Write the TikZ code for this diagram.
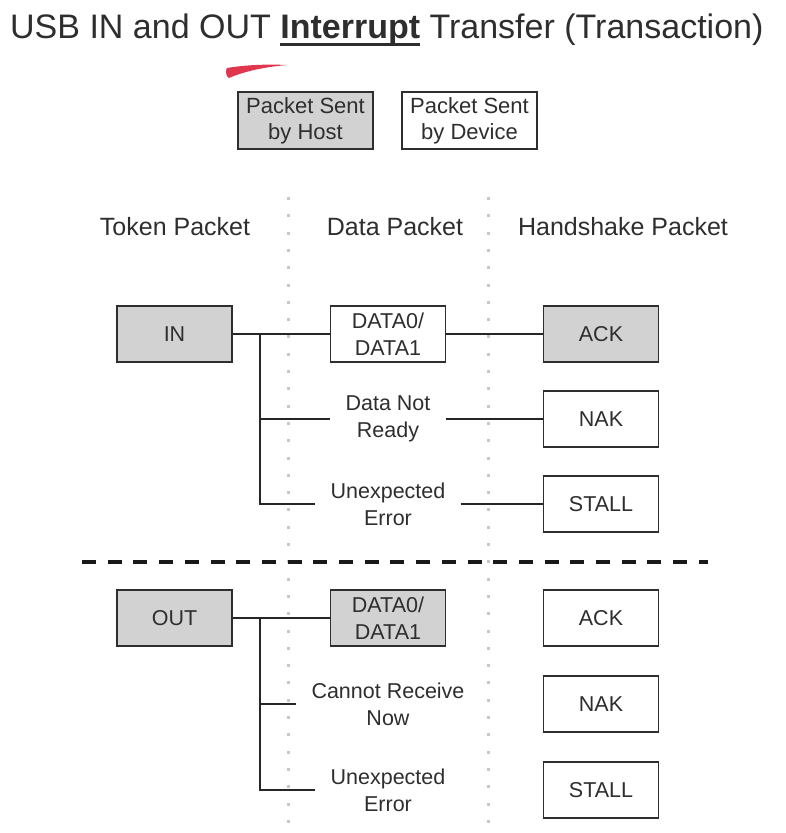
\documentclass[tikz,border=0pt]{standalone}
\usepackage{fontspec}
\setmainfont{Liberation Sans}
\usetikzlibrary{positioning}
\definecolor{pktGray}{HTML}{D2D2D2}
\definecolor{pktText}{HTML}{2E2E2E}
\definecolor{pktDot}{HTML}{C8C8C8}
\definecolor{penRed}{HTML}{E0364E}
\newlength{\ulWidth}
\newcommand{\ulBold}[1]{\settowidth{\ulWidth}{\textbf{#1}}\textbf{#1}\hspace{-\ulWidth}\rule[-8pt]{\ulWidth}{3pt}}
\tikzstyle{pHost} = [rectangle, minimum width=115pt, minimum height=56pt, inner ysep=1pt, align=center, draw=pktText, line width=1.6pt, fill=pktGray, text=pktText, font=\fontsize{21.5}{27}\selectfont]
\tikzstyle{pDevice} = [pHost, fill=white]
\tikzstyle{pLegend} = [pHost, minimum width=135pt, minimum height=57pt, font=\fontsize{22}{26}\selectfont]
\tikzstyle{pLabel} = [rectangle, inner xsep=15pt, inner ysep=1pt, align=center, text=pktText, font=\fontsize{21.5}{27}\selectfont]
\tikzstyle{pHeading} = [anchor=base, inner sep=0pt, text=pktText, font=\fontsize{25}{30}\selectfont]
\tikzstyle{pLine} = [line width=2.8pt, black!85]
\tikzstyle{pColumn} = [pktDot, line width=3pt, dash pattern=on 3pt off 14.3pt]
\tikzstyle{pDivider} = [black!90, line width=4pt, dash pattern=on 14pt off 11.7pt]
\begin{document}
\begin{tikzpicture}[x=1pt, y=1pt, node distance=85pt]
    \useasboundingbox (0,0) rectangle (785,-833);
    \node (title) [anchor=base west, inner sep=0pt, text=pktText, font=\fontsize{34}{40}\selectfont] at (10,-38) {USB IN and OUT \ulBold{Interrupt} Transfer (Transaction)};
    \fill [penRed] (227,-68) .. controls (245,-65) and (265,-64) .. (287,-65) .. controls (265,-67) and (245,-71) .. (229,-78) .. controls (226,-77) and (225,-70) .. (227,-68) -- cycle;
    \node (hostKey) [pLegend] at (305.5,-120.5) {Packet Sent\\by Host};
    \node (deviceKey) [pLegend, fill=white, right of=hostKey, xshift=79pt] {Packet Sent\\by Device};

    \draw [pColumn] (288,-197) -- (288,-833);
    \draw [pColumn] (488,-197) -- (488,-833);
    \node (tokHead) [pHeading] at (175,-235) {Token Packet};
    \node (dataHead) [pHeading] at (395,-235) {Data Packet};
    \node (shakeHead) [pHeading] at (623,-235) {Handshake Packet};

    % IN transfer
    \node (inTok) [pHost] at (174.5,-334) {IN};
    \node (dataIn) [pDevice, right of=inTok, xshift=128.5pt] {DATA0/\\DATA1};
    \node (ackIn) [pHost, right of=dataIn, xshift=128pt] {ACK};
    \node (notReady) [pLabel, below of=dataIn] {Data Not\\Ready};
    \node (errIn) [pLabel, below of=notReady] {Unexpected\\Error};
    \node (nakIn) [pDevice, below of=ackIn] {NAK};
    \node (stallIn) [pDevice, below of=nakIn] {STALL};
    \coordinate (inFork) at (260,-334);

    \draw [pLine] (inTok) -- (dataIn);
    \draw [pLine] (dataIn) -- (ackIn);
    \draw [pLine] (inFork) |- (errIn.west);
    \draw [pLine] (inFork |- notReady.west) -- (notReady.west);
    \draw [pLine] (notReady) -- (nakIn);
    \draw [pLine] (errIn) -- (stallIn);

    \draw [pDivider] (82,-562) -- (708,-562);

    % OUT transfer
    \node (outTok) [pHost] at (174.5,-618) {OUT};
    \node (dataOut) [pHost, right of=outTok, xshift=128.5pt] {DATA0/\\DATA1};
    \node (ackOut) [pDevice, right of=dataOut, xshift=128pt] {ACK};
    \node (noReceive) [pLabel, below of=dataOut, yshift=-1pt] {Cannot Receive\\Now};
    \node (errOut) [pLabel, below of=noReceive, yshift=-1pt] {Unexpected\\Error};
    \node (nakOut) [pDevice, below of=ackOut, yshift=-1pt] {NAK};
    \node (stallOut) [pDevice, below of=nakOut, yshift=-1pt] {STALL};
    \coordinate (outFork) at (260,-618);

    \draw [pLine] (outTok) -- (dataOut);
    \draw [pLine] (outFork) |- (errOut.west);
    \draw [pLine] (outFork |- noReceive.west) -- (noReceive.west);
\end{tikzpicture}
\end{document}
